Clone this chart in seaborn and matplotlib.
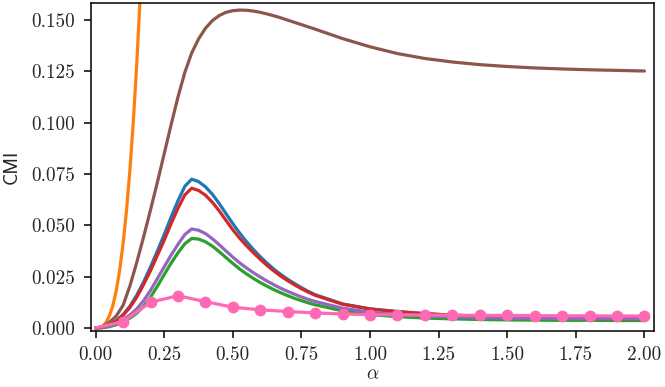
import numpy as np
import seaborn as sns
import matplotlib
matplotlib.use("Agg")
import matplotlib.pyplot as plt

# ------------------------------------------------------------
# data
# ------------------------------------------------------------
alpha = [0.0, 0.025, 0.05, 0.075, 0.1, 0.125, 0.15, 0.175, 0.2, 0.225,
         0.25, 0.275, 0.3, 0.325, 0.35, 0.375, 0.4, 0.425, 0.45, 0.475,
         0.5, 0.525, 0.55, 0.575, 0.6, 0.625, 0.65, 0.675, 0.7, 0.725,
         0.75, 0.775, 0.8, 0.9, 1.0, 1.1, 1.2, 1.3, 1.4, 1.5,
         1.6, 1.7, 1.8, 1.9, 2.0]

cmi_blue = [0.0, 0.0003, 0.0014, 0.0035, 0.0065, 0.0106, 0.0160, 0.0225, 0.0297, 0.0375,
            0.0455, 0.0540, 0.0620, 0.0690, 0.0725, 0.0713, 0.0688, 0.0652, 0.0607, 0.0557,
            0.0508, 0.0462, 0.0420, 0.0382, 0.0347, 0.0315, 0.0286, 0.0260, 0.0237, 0.0216,
            0.0196, 0.0178, 0.0162, 0.0117, 0.0093, 0.0080, 0.0070, 0.0062, 0.0057, 0.0053,
            0.0050, 0.0048, 0.0046, 0.0045, 0.0044]

cmi_red = [0.0, 0.0003, 0.0013, 0.0033, 0.0061, 0.0100, 0.0150, 0.0212, 0.0279, 0.0353,
           0.0428, 0.0508, 0.0583, 0.0648, 0.0681, 0.0670, 0.0647, 0.0613, 0.0571, 0.0524,
           0.0478, 0.0437, 0.0400, 0.0366, 0.0334, 0.0304, 0.0277, 0.0252, 0.0230, 0.0210,
           0.0191, 0.0174, 0.0159, 0.0115, 0.0092, 0.0079, 0.0069, 0.0062, 0.0057, 0.0053,
           0.0050, 0.0048, 0.0046, 0.0045, 0.0044]

cmi_purple = [0.0, 0.0002, 0.0009, 0.0022, 0.0040, 0.0063, 0.0093, 0.0133, 0.0183, 0.0240,
              0.0298, 0.0355, 0.0407, 0.0455, 0.0482, 0.0476, 0.0460, 0.0435, 0.0406, 0.0375,
              0.0345, 0.0317, 0.0292, 0.0269, 0.0248, 0.0228, 0.0210, 0.0193, 0.0178, 0.0164,
              0.0151, 0.0139, 0.0129, 0.0096, 0.0077, 0.0065, 0.0058, 0.0053, 0.0050, 0.0048,
              0.0047, 0.0046, 0.0045, 0.0045, 0.0044]

cmi_green = [0.0, 0.0001, 0.0006, 0.0016, 0.0030, 0.0048, 0.0072, 0.0106, 0.0150, 0.0203,
             0.0260, 0.0316, 0.0366, 0.0410, 0.0436, 0.0433, 0.0420, 0.0399, 0.0372, 0.0343,
             0.0314, 0.0287, 0.0263, 0.0241, 0.0221, 0.0203, 0.0186, 0.0171, 0.0157, 0.0144,
             0.0133, 0.0122, 0.0113, 0.0083, 0.0065, 0.0055, 0.0048, 0.0044, 0.0041, 0.0039,
             0.0038, 0.0037, 0.0037, 0.0036, 0.0036]

cmi_brown = [0.0, 0.0006, 0.0027, 0.0058, 0.0110, 0.0205, 0.0320, 0.0445, 0.0575, 0.0710,
             0.0850, 0.0990, 0.1125, 0.1245, 0.1340, 0.1408, 0.1460, 0.1497, 0.1522, 0.1538,
             0.1546, 0.1549, 0.1548, 0.1544, 0.1538, 0.1530, 0.1521, 0.1511, 0.1500, 0.1489,
             0.1478, 0.1467, 0.1456, 0.1410, 0.1370, 0.1337, 0.1313, 0.1296, 0.1283, 0.1274,
             0.1267, 0.1262, 0.1258, 0.1255, 0.1252]

# orange shoots off the top of the axes, only the visible part
alpha_orange = [0.0, 0.0125, 0.025, 0.0375, 0.05, 0.0625, 0.075, 0.0875,
                0.1, 0.1125, 0.125, 0.1375, 0.15, 0.1625, 0.175]
cmi_orange = [0.0, 0.0001, 0.0008, 0.0026, 0.0058, 0.0108, 0.0182, 0.0281,
              0.0410, 0.0573, 0.0772, 0.1011, 0.1290, 0.1620, 0.2000]

# pink series with circle markers
alpha_pink = [0.0, 0.1, 0.2, 0.3, 0.4, 0.5, 0.6, 0.7, 0.8, 0.9, 1.0,
              1.1, 1.2, 1.3, 1.4, 1.5, 1.6, 1.7, 1.8, 1.9, 2.0]
cmi_pink = [0.0, 0.0031, 0.0125, 0.0157, 0.0128, 0.0101, 0.0088, 0.0080, 0.0073, 0.0068, 0.0065,
            0.0064, 0.0063, 0.0062, 0.0061, 0.0061, 0.0060, 0.0059, 0.0059, 0.0058, 0.0058]

# ------------------------------------------------------------
# style
# ------------------------------------------------------------
sns.set_style("ticks")
plt.rcParams["font.family"] = ["cmr10", "DejaVu Serif"]
plt.rcParams["mathtext.fontset"] = "cm"
plt.rcParams["axes.formatter.use_mathtext"] = True
plt.rcParams["font.size"] = 13.8

pal = sns.color_palette("tab10")
lw = 2.3

fig = plt.figure(figsize=(6.65, 3.87), dpi=100)
ax = fig.add_axes([0.1364, 0.1447, 0.8471, 0.8473])

# ------------------------------------------------------------
# curves
# ------------------------------------------------------------
sns.lineplot(x=alpha, y=cmi_blue, color=pal[0], lw=lw, ax=ax)
sns.lineplot(x=alpha_orange, y=cmi_orange, color=pal[1], lw=lw, ax=ax)
sns.lineplot(x=alpha, y=cmi_green, color=pal[2], lw=lw, ax=ax)
sns.lineplot(x=alpha, y=cmi_red, color=pal[3], lw=lw, ax=ax)
sns.lineplot(x=alpha, y=cmi_purple, color=pal[4], lw=lw, ax=ax)
sns.lineplot(x=alpha, y=cmi_brown, color=pal[5], lw=lw, ax=ax)
sns.lineplot(x=alpha_pink, y=cmi_pink, color="hotpink", lw=lw, ax=ax,
             marker="o", markersize=8.5, markeredgewidth=0,
             markevery=slice(1, None))

# ------------------------------------------------------------
# axes
# ------------------------------------------------------------
ax.set_xlim(-0.018, 2.035)
ax.set_ylim(-0.0015, 0.1583)
ax.set_xticks(np.arange(0, 2.01, 0.25))
ax.set_yticks(np.arange(0, 0.151, 0.025))
ax.xaxis.set_major_formatter(matplotlib.ticker.FormatStrFormatter("%.2f"))
ax.yaxis.set_major_formatter(matplotlib.ticker.FormatStrFormatter("%.3f"))
ax.tick_params(length=5, width=1.1, pad=6, labelsize=13.8, color="black")
for s in ax.spines.values():
    s.set_linewidth(1.1)
    s.set_color("black")

ax.set_xlabel(r"$\alpha$", fontsize=13.8, labelpad=1)
ax.set_ylabel("CMI", fontsize=13.8, labelpad=8, family=["cmss10", "DejaVu Sans"])

plt.savefig("out.png", dpi=100)
